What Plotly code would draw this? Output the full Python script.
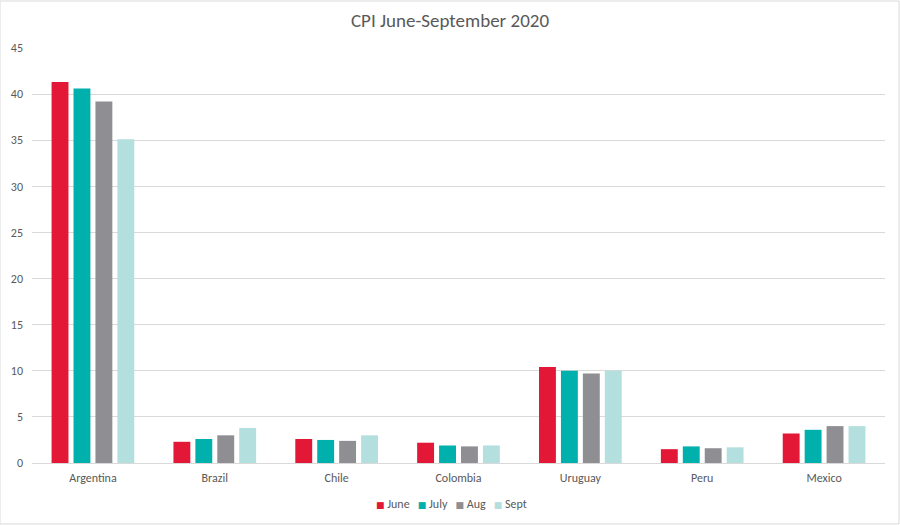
import plotly.graph_objects as go

countries = ["Argentina", "Brazil", "Chile", "Colombia", "Uruguay", "Peru", "Mexico"]
june = [41.3, 2.3, 2.6, 2.2, 10.4, 1.5, 3.2]
july = [40.6, 2.6, 2.5, 1.9, 10.0, 1.8, 3.6]
aug = [39.2, 3.0, 2.4, 1.8, 9.7, 1.6, 4.0]
sept = [35.1, 3.8, 3.0, 1.9, 10.0, 1.7, 4.0]
y_ticks = [0, 5, 10, 15, 20, 25, 30, 35, 40, 45]

series = [("June", june, "#E31837"), ("July", july, "#00B0AD"),
          ("Aug", aug, "#8E8E93"), ("Sept", sept, "#B4DFDF")]

fig = go.Figure()
for name, vals, col in series:
    fig.add_trace(go.Bar(name=name, x=countries, y=vals, marker_color=col,
                         marker_line_width=0, showlegend=False))

font = "Calibri, Carlito, Lato, 'Open Sans', sans-serif"

# compact legend (Excel style): small square swatch directly before each name
legend_text = "&nbsp;&nbsp;&nbsp;".join(
    f"<span style='color:{col};font-family:DejaVu Sans;font-size:9px'>■</span> {name}"
    for name, vals, col in series)

fig.update_layout(
    width=900, height=525,
    paper_bgcolor="white", plot_bgcolor="white",
    margin=dict(l=32, r=15, t=48, b=62),
    title=dict(text="CPI June-September 2020", x=0.5, xanchor="center",
               y=0.962, yanchor="middle",
               font=dict(family=font, size=19, color="#595959")),
    barmode="group", bargap=0.28, bargroupgap=0.23,
    font=dict(family=font, size=12, color="#595959"),
    showlegend=False,
    annotations=[dict(text=legend_text, xref="paper", yref="paper",
                      x=(451 - 32) / 853, y=-41 / 415, xanchor="center", yanchor="middle",
                      showarrow=False, font=dict(family=font, size=12, color="#595959"))],
)
fig.update_yaxes(range=[0, 45], tickvals=y_ticks, showgrid=True, gridcolor="#D9D9D9",
                 gridwidth=1, zeroline=False, showline=False, ticks="",
                 ticklabelstandoff=8,
                 tickfont=dict(size=12, color="#595959"))
fig.update_xaxes(showline=True, linecolor="#D9D9D9", linewidth=1, ticks="",
                 ticklabelstandoff=4,
                 tickfont=dict(size=12, color="#595959"))
fig.add_shape(type="rect", xref="paper", yref="paper", x0=-32/853, x1=1+14/853,
              y0=-61/415, y1=1+47/415, line=dict(color="#D9D9D9", width=1),
              fillcolor="rgba(0,0,0,0)", layer="below")
fig.write_html("out.html")
